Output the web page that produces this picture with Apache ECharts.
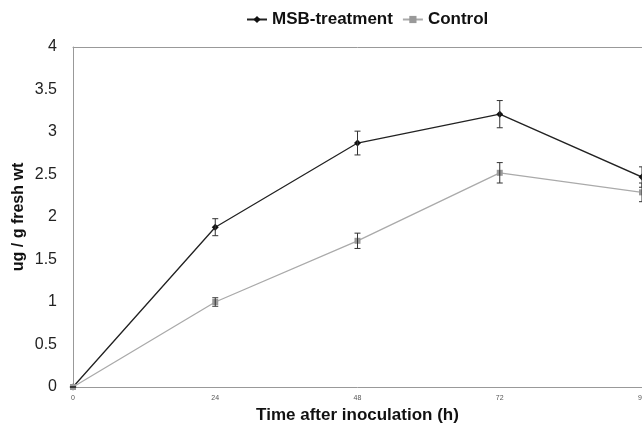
<!DOCTYPE html>
<html>
<head>
<meta charset="utf-8">
<script src="https://cdn.jsdelivr.net/npm/echarts@6/dist/echarts.min.js"></script>
<style>
  html, body { margin: 0; padding: 0; background: #fff; }
  #chart { width: 642px; height: 428px; }
</style>
</head>
<body>
<div id="chart"></div>
<script>
// hours after inoculation
const hours = [0, 24, 48, 72, 96];
// ug / g fresh wt
const msbValues = [0, 1.88, 2.87, 3.21, 2.47];
const msbErrors = [0, 0.1, 0.14, 0.16, 0.12];
const controlValues = [0, 1.0, 1.72, 2.52, 2.29];
const controlErrors = [0, 0.05, 0.09, 0.12, 0.11];

const chart = echarts.init(document.getElementById("chart"));

function toPairs(values) {
    return hours.map((h, i) => [h, values[i]]);
}
function toErrorRows(values, errors) {
    return hours.map((h, i) => [h, values[i] - errors[i], values[i] + errors[i]]);
}

// draws an I-shaped error bar for each point
function renderErrorBar(params, api) {
    const top = api.coord([api.value(0), api.value(2)]);
    const bottom = api.coord([api.value(0), api.value(1)]);
    const half = 3;
    const style = { stroke: "#333", lineWidth: 1 };
    return {
        type: "group",
        children: [
            { type: "line", shape: { x1: top[0], y1: top[1], x2: bottom[0], y2: bottom[1] }, style: style },
            { type: "line", shape: { x1: top[0] - half, y1: top[1], x2: top[0] + half, y2: top[1] }, style: style },
            { type: "line", shape: { x1: bottom[0] - half, y1: bottom[1], x2: bottom[0] + half, y2: bottom[1] }, style: style },
        ],
    };
}

const option = {
    backgroundColor: "#fff",
    animation: false,
    textStyle: { fontFamily: "Liberation Sans, Arial, sans-serif" },
    legend: {
        left: 246,
        top: 11,
        padding: 0,
        itemWidth: 20,
        itemHeight: 9,
        itemGap: 9,
        textStyle: { fontSize: 17, fontWeight: "bold", color: "#111" },
        data: ["MSB-treatment", "Control"],
    },
    grid: { left: 73, right: 0, top: 47, bottom: 41, outerBoundsMode: "none", containLabel: false },
    xAxis: [
        {
            type: "value",
            min: 0,
            max: 96,
            interval: 24,
            name: "Time after inoculation (h)",
            nameLocation: "middle",
            nameGap: 20,
            nameTextStyle: { fontSize: 17, fontWeight: "bold", color: "#111" },
            axisLine: { lineStyle: { color: "#999" } },
            axisTick: { show: false },
            axisLabel: { fontSize: 7, color: "#555", margin: 8 },
            splitLine: { show: false },
        },
        {
            type: "value",
            position: "top",
            min: 0,
            max: 96,
            axisLine: { show: true, lineStyle: { color: "#999" } },
            axisTick: { show: false },
            axisLabel: { show: false },
            splitLine: { show: false },
        },
    ],
    yAxis: {
        type: "value",
        min: 0,
        max: 4,
        interval: 0.5,
        name: "ug / g fresh wt",
        nameLocation: "middle",
        nameGap: 46,
        nameMoveOverlap: false,
        nameTextStyle: { fontSize: 16, fontWeight: "bold", color: "#111" },
        axisLine: { show: true, lineStyle: { color: "#999" } },
        axisTick: { show: false },
        axisLabel: { fontSize: 16, color: "#222", margin: 16 },
        splitLine: { show: false },
    },
    series: [
        {
            name: "MSB-treatment",
            type: "line",
            data: toPairs(msbValues),
            symbol: "diamond",
            symbolSize: 7,
            color: "#222",
            lineStyle: { width: 1.3, color: "#222" },
            itemStyle: { color: "#111" },
            z: 2,
        },
        {
            name: "Control",
            type: "line",
            data: toPairs(controlValues),
            symbol: "rect",
            symbolSize: 6,
            color: "#aaa",
            lineStyle: { width: 1.3, color: "#aaa" },
            itemStyle: { color: "#999" },
            z: 3,
        },
        {
            type: "custom",
            renderItem: renderErrorBar,
            data: toErrorRows(msbValues, msbErrors),
            z: 4,
        },
        {
            type: "custom",
            renderItem: renderErrorBar,
            data: toErrorRows(controlValues, controlErrors),
            z: 4,
        },
    ],
};

chart.setOption(option);
</script>
</body>
</html>
